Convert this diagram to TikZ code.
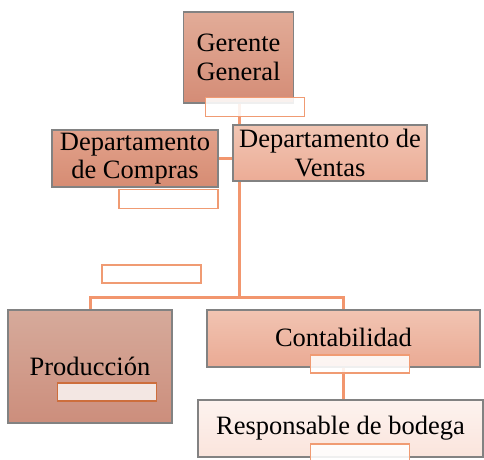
\documentclass[tikz,border=0pt]{standalone}
\usepackage{fontspec}
\setmainfont{Liberation Serif}
\definecolor{linea}{RGB}{242,150,110}
\definecolor{borde}{RGB}{130,130,130}
\definecolor{marco}{RGB}{240,155,115}
\tikzset{
  puesto/.style={draw=borde, line width=1.3pt, align=center, inner sep=0pt,
    font=\fontsize{26.5}{28.5}\selectfont},
  etiqueta/.style={draw=marco, fill=white, fill opacity=0.88, line width=1.2pt,
    minimum width=99, minimum height=19, inner sep=0pt},
  rama/.style={linea, line width=3pt}
}
\begin{document}
\begin{tikzpicture}[x=1pt, y=-1pt]
      \useasboundingbox (0,0) rectangle (484,459);

      % Cargos
      \node[puesto, minimum width=110, minimum height=91,
        top color={rgb,255:red,226;green,172;blue,152},
        bottom color={rgb,255:red,212;green,140;blue,118}]
        (ger) at (238.5,57.5) {Gerente\\General};
      \node[puesto, minimum width=166, minimum height=57,
        top color={rgb,255:red,226;green,162;blue,140},
        bottom color={rgb,255:red,214;green,140;blue,115}]
        (com) at (135,158.5) {Departamento\\de Compras};
      \node[puesto, minimum width=164, minimum height=113,
        top color={rgb,255:red,214;green,170;blue,155},
        bottom color={rgb,255:red,204;green,142;blue,124}]
        (prod) at (90,366.5) {Producción};
      \node[puesto, minimum width=273, minimum height=57,
        top color={rgb,255:red,241;green,196;blue,178},
        bottom color={rgb,255:red,234;green,170;blue,148}]
        (cont) at (343.5,338.5) {\raisebox{3pt}{Contabilidad}};
      \node[puesto, minimum width=285, minimum height=57,
        top color={rgb,255:red,253;green,243;blue,239},
        bottom color={rgb,255:red,250;green,228;blue,220}]
        (resp) at (340.5,428.5) {Responsable de bodega};

      % Conectores
      \coordinate (hub) at (239,297);
      \draw[rama] (ger.south -| hub) -- (hub);
      \draw[rama] (com.east) -- (com.east -| hub);
      \draw[rama] (hub) -| (prod.north);
      \draw[rama] (hub) -| (cont.north);
      \draw[rama] (cont.south -| 343,0) -- (resp.north -| 343,0);

      % Ventas tapa la linea vertical
      \node[puesto, minimum width=194, minimum height=56,
        top color={rgb,255:red,241;green,198;blue,180},
        bottom color={rgb,255:red,236;green,172;blue,150}]
        (ven) at (330,153) {Departamento de\\Ventas};

      % Etiquetas vacias
      \node[etiqueta] (eger) at (255,107) {};
      \node[etiqueta] (ecom) at (168.5,199) {};
      \node[etiqueta, minimum height=18] (even) at (151.5,274) {};
      \node[etiqueta, minimum height=18, draw={rgb,255:red,205;green,110;blue,60},
        fill={rgb,255:red,249;green,243;blue,241}] (eprod) at (107,392) {};
      \node[etiqueta, minimum height=18] (econt) at (360,364) {};
      \node[etiqueta, minimum height=18] (eresp) at (360,453) {};
\end{tikzpicture}
\end{document}
